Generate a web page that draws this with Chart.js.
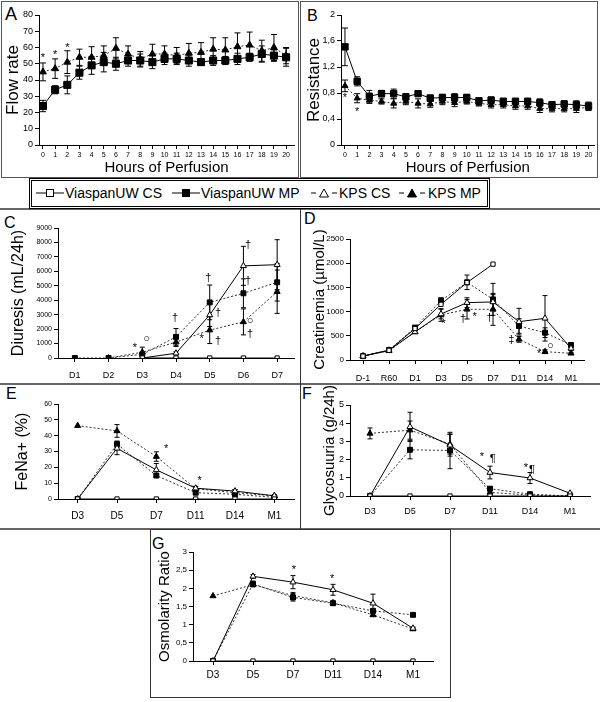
<!DOCTYPE html>
<html><head><meta charset="utf-8">
<script src="https://cdn.jsdelivr.net/npm/chart.js@4.4.0/dist/chart.umd.min.js"></script>
<style>
body{margin:0;background:#fff;width:600px;height:702px;position:relative;overflow:hidden;font-family:"Liberation Sans",Arial,sans-serif;}
canvas{position:absolute;}
.ln{position:absolute;background:#666;}
.box{position:absolute;border:1px solid #555;box-sizing:border-box;}
.lab{position:absolute;font-size:16px;line-height:16px;color:#000;}
.lg{position:absolute;font-size:14px;line-height:14px;color:#000;white-space:nowrap;}
.sym{position:absolute;}
</style></head><body>
<div class="box" style="left:1px;top:1px;width:298px;height:177px;"></div>
<div class="box" style="left:300px;top:1px;width:298px;height:177px;"></div>
<div class="ln" style="left:0;top:208px;width:600px;height:2px;"></div>
<div class="ln" style="left:0;top:383px;width:600px;height:2px;"></div>
<div class="ln" style="left:0;top:528px;width:600px;height:2px;"></div>
<div class="ln" style="left:300px;top:209px;width:1px;height:320px;background:#333;"></div>
<div class="box" style="left:150px;top:529px;width:301px;height:169px;border-color:#333;"></div>

<div class="box" style="left:29px;top:178px;width:461px;height:31px;border-color:#000;"></div>
<div class="box" style="left:31px;top:180px;width:457px;height:27px;border-color:#000;"></div>
<svg class="sym" style="left:36px;top:187px" width="28" height="12"><line x1="0" y1="6" x2="28" y2="6" stroke="#000"/><rect x="10.5" y="2.5" width="7" height="7" fill="#fff" stroke="#000"/></svg>
<div class="lg" style="left:65px;top:186px;">ViaspanUW CS</div>
<svg class="sym" style="left:172px;top:187px" width="28" height="12"><line x1="0" y1="6" x2="28" y2="6" stroke="#000"/><rect x="10.5" y="2.5" width="7" height="7" fill="#000" stroke="#000"/></svg>
<div class="lg" style="left:201px;top:186px;">ViaspanUW MP</div>
<svg class="sym" style="left:310px;top:187px" width="28" height="12"><line x1="1" y1="6" x2="6" y2="6" stroke="#000"/><line x1="22" y1="6" x2="27" y2="6" stroke="#000"/><polygon points="14,2 18.5,10 9.5,10" fill="#fff" stroke="#000"/></svg>
<div class="lg" style="left:339px;top:186px;">KPS CS</div>
<svg class="sym" style="left:398px;top:187px" width="28" height="12"><line x1="1" y1="6" x2="6" y2="6" stroke="#000"/><line x1="22" y1="6" x2="27" y2="6" stroke="#000"/><polygon points="14,2 18.5,10 9.5,10" fill="#000" stroke="#000"/></svg>
<div class="lg" style="left:428px;top:186px;">KPS MP</div>

<div class="lab" style="left:5px;top:5px;font-size:18px;line-height:18px;">A</div>
<div class="lab" style="left:307px;top:8px;">B</div>
<div class="lab" style="left:4px;top:215px;">C</div>
<div class="lab" style="left:304px;top:211px;">D</div>
<div class="lab" style="left:6px;top:386px;">E</div>
<div class="lab" style="left:302px;top:386px;">F</div>
<div class="lab" style="left:152px;top:536px;">G</div>

<script>
// ---------- DATA ----------
const hours = [0,1,2,3,4,5,6,7,8,9,10,11,12,13,14,15,16,17,18,19,20];
// Panel A: flow rate
const flowUwMP = [24,34,37,44.5,49,51,50,52,52,51,53,53,52,51,52,52,53,54,56,55,54];
const flowUwMPErr = [3.5,2.5,5.5,4,5.5,6,4,3.5,4,4,3.5,3.5,3.5,2,3,2.5,3.5,2.5,5,3.5,5.5];
const flowKpsMP = [45,47,51,54,54,55,59.5,56,53,56,56,55,56.5,57,59,58.5,60.5,61.5,58,60,55];
const flowKpsMPErr = [5.5,6,7,5,6.5,6,6.5,5,4.5,6,5,5,6,6,7,7.5,8.5,8,6.5,8,5];
const flowMarks = [{x:0,y:53.5,t:'*'},{x:1,y:55.5,t:'*'},{x:2,y:60,t:'*'}];
// Panel B: resistance
const resUwMP = [1.51,0.98,0.75,0.79,0.79,0.74,0.79,0.72,0.73,0.73,0.73,0.68,0.69,0.67,0.67,0.67,0.65,0.62,0.63,0.62,0.60];
const resUwMPErr = [0.29,0.07,0.09,0.05,0.07,0.05,0.04,0.05,0.05,0.06,0.05,0.04,0.05,0.05,0.05,0.05,0.06,0.05,0.05,0.06,0.06];
const resKpsMP = [0.91,0.72,0.69,0.67,0.64,0.67,0.64,0.63,0.67,0.65,0.67,0.64,0.62,0.62,0.60,0.60,0.56,0.56,0.56,0.56,0.58];
const resKpsMPErr = [0.09,0.07,0.05,0.04,0.07,0.05,0.07,0.05,0.05,0.06,0.04,0.04,0.05,0.05,0.05,0.05,0.06,0.05,0.05,0.06,0.05];
const resMarks = [{x:0,y:0.73,t:'*'},{x:1,y:0.51,t:'*'}];
// Panel C: diuresis
const daysC = ['D1','D2','D3','D4','D5','D6','D7'];
const diuUwCS = [null,null,0,0,0,0,0];
const diuKpsCS = [null,null,0,330,2980,6380,6460];
const diuKpsCSErr = [0,0,0,100,800,1350,1730];
const diuUwMP = [0,0,250,1460,3850,4480,5240];
const diuUwMPErr = [0,0,0,580,1200,1000,1300];
const diuKpsMP = [null,0,400,1100,1930,2500,4590];
const diuKpsMPErr = [0,0,350,300,930,900,1500];
const diuMarks = [{x:1.78,y:700,t:'*'},{x:2.13,y:1300,t:'○'},{x:2.97,y:2740,t:'†'},{x:3.96,y:5520,t:'†'},
  {x:4.25,y:3090,t:'†'},{x:3.76,y:1300,t:'*'},{x:4.25,y:1160,t:'†'},{x:5.14,y:7840,t:'†'},{x:5.14,y:5340,t:'†'},
  {x:5.2,y:2550,t:'○'},{x:5.2,y:1690,t:'†'}];
// Panel D: creatinemia
const daysD = ['D-1','R60','D1','D3','D5','D7','D11','D14','M1'];
const creUwCS = [80,200,650,1150,1600,1980,null,null,null];
const creKpsCS = [80,200,580,950,1185,1200,792,861,241];
const creKpsCSErr = [0,0,0,100,100,150,275,470,40];
const creUwMP = [80,207,670,1226,1605,1253,702,565,310];
const creUwMPErr = [0,0,0,60,150,330,150,100,40];
const creKpsMP = [80,190,580,930,1047,1047,427,172,138];
const creKpsMPErr = [0,0,0,130,200,330,60,40,20];
const creMarks = [{x:3.1,y:737,t:'*'},{x:3.85,y:847,t:'†'},{x:4.29,y:895,t:'*'},{x:4.87,y:860,t:'†'},
  {x:5.7,y:413,t:'‡'},{x:7.2,y:290,t:'○'},{x:6.77,y:117,t:'*'}];
// Panels E, F, G
const daysE = ['D3','D5','D7','D11','D14','M1'];
const fenUwCS = [0,0,0,0,0,0];
const fenKpsCS = [0,32,18.4,6.8,5,2];
const fenKpsCSErr = [0,4,4,1,1,0.5];
const fenUwMP = [0,34.6,14.8,4,3,1];
const fenUwMPErr = [0,2,1,1,1,0.3];
const fenKpsMP = [46.3,43,26.8,6.5,4,2];
const fenKpsMPErr = [0,4,3,1.5,2,0.5];
const fenMarks = [{x:2.25,y:31.7,t:'*'},{x:3.1,y:11.4,t:'*'}];

const glyUwCS = [0,0,0,0,0,0];
const glyKpsCS = [0,3.8,2.79,1.29,0.99,0.15];
const glyKpsCSErr = [0,0.8,0.6,0.35,0.3,0.05];
const glyUwMP = [0,2.54,2.5,0.4,0.1,0];
const glyUwMPErr = [0,0.5,1.0,0.1,0.05,0];
const glyKpsMP = [3.44,3.62,2.85,0.2,0.05,0];
const glyKpsMPErr = [0.3,0.5,0.55,0.1,0.05,0];
const glyMarks = [{x:2.8,y:2.15,t:'*'},{x:3.07,y:2.06,t:'¶'},{x:3.9,y:1.55,t:'*'},{x:4.05,y:1.45,t:'¶'}];

const osmUwCS = [0,0,0,0,0,0];
const osmKpsCS = [0,2.33,2.17,1.96,1.59,0.9];
const osmKpsCSErr = [0,0.05,0.18,0.15,0.25,0.03];
const osmUwMP = [0,2.12,1.75,1.59,1.38,1.27];
const osmUwMPErr = [0,0.08,0.1,0.05,0.05,0.02];
const osmKpsMP = [1.79,2.1,1.8,1.6,1.27,0.88];
const osmKpsMPErr = [0,0.05,0.08,0.05,0.05,0.03];
const osmMarks = [{x:2.02,y:2.51,t:'*'},{x:2.98,y:2.26,t:'*'}];

// ---------- RENDERING ----------
const FF = '"Liberation Sans", Arial, sans-serif';
Chart.defaults.font.family = FF;
Chart.defaults.color = '#000';

const errorBarPlugin = {
  id: 'errorBars',
  beforeDatasetsDraw(chart, args, opts) {
    const ctx = chart.ctx, ys = chart.scales.y, cap = opts.cap || 2.5;
    chart.data.datasets.forEach((d, i) => {
      if (!d.errorBars) return;
      const meta = chart.getDatasetMeta(i);
      meta.data.forEach((pt, j) => {
        const v = d.data[j], e = d.errorBars[j];
        if (v == null || !e) return;
        const x = pt.x, y1 = ys.getPixelForValue(v + e), y2 = ys.getPixelForValue(Math.max(0, v - e));
        ctx.save(); ctx.strokeStyle = '#000'; ctx.lineWidth = 1; ctx.setLineDash([]);
        ctx.beginPath();
        ctx.moveTo(x, y1); ctx.lineTo(x, y2);
        ctx.moveTo(x - cap, y1); ctx.lineTo(x + cap, y1);
        ctx.moveTo(x - cap, y2); ctx.lineTo(x + cap, y2);
        ctx.stroke(); ctx.restore();
      });
    });
  }
};
const marksPlugin = {
  id: 'marks',
  afterDatasetsDraw(chart, args, opts) {
    const items = opts.items || [];
    const ctx = chart.ctx;
    ctx.save();
    ctx.fillStyle = '#000'; ctx.textAlign = 'center'; ctx.textBaseline = 'middle';
    ctx.font = (opts.size || 11) + 'px ' + FF;
    items.forEach(m => ctx.fillText(m.t, chart.scales.x.getPixelForValue(m.x), chart.scales.y.getPixelForValue(m.y)));
    ctx.restore();
  }
};

const fmt = v => String(Math.round(v * 100) / 100).replace('.', ',');

function series(kind, data, err, r, dash) {
  const open = kind === 'uwCS' || kind === 'kpsCS';
  const tri = kind === 'kpsCS' || kind === 'kpsMP';
  return {
    label: kind, data: data, errorBars: err,
    borderColor: dash && dash.length ? '#333' : '#000', borderWidth: 1, borderDash: dash,
    pointStyle: tri ? 'triangle' : 'rect', pointRadius: r, pointHoverRadius: r,
    pointBackgroundColor: open ? '#fff' : '#000', pointBorderColor: '#000', pointBorderWidth: 1,
    fill: false, tension: 0, spanGaps: false
  };
}

function makeChart(c) {
  const cv = document.createElement('canvas');
  cv.width = c.w; cv.height = c.h;
  cv.style.left = c.left + 'px'; cv.style.top = c.top + 'px';
  cv.style.width = c.w + 'px'; cv.style.height = c.h + 'px';
  document.body.appendChild(cv);
  const tickGrid = {display: true, drawOnChartArea: false, drawTicks: true, tickLength: 4, color: '#000', offset: false};
  const x = c.linear ? {
    type: 'linear', min: c.xmin, max: c.xmax,
    afterBuildTicks: s => { s.ticks = c.labels.map(h => ({value: h})); },
    ticks: {autoSkip: false, maxRotation: 0, font: {size: c.xtf}, padding: c.xpad, callback: v => String(v)},
    grid: tickGrid, border: {display: true, color: '#000'},
    title: {display: !!c.xtitle, text: c.xtitle, font: {size: 15}, padding: {top: 0, bottom: 0}},
    afterFit: s => { s.height = c.xh; }
  } : {
    type: 'category', offset: true,
    ticks: {autoSkip: false, maxRotation: 0, font: {size: c.xtf}, padding: c.xpad},
    grid: tickGrid, border: {display: true, color: '#000'},
    afterFit: s => { s.height = c.xh; }
  };
  return new Chart(cv, {
    type: 'line',
    data: {labels: c.labels, datasets: c.datasets},
    options: {
      responsive: false, animation: false, devicePixelRatio: 1,
      layout: {padding: {left: 0, top: c.ptop, right: c.pright, bottom: 0}},
      plugins: {legend: {display: false}, tooltip: {enabled: false},
        errorBars: {cap: c.cap || 2.5}, marks: {items: c.marks, size: c.msize || 11}},
      scales: {
        x: x,
        y: {
          min: 0, max: c.ymax,
          ticks: {stepSize: c.ystep, font: {size: c.ytf}, padding: 2, callback: v => fmt(v)},
          grid: {display: true, drawOnChartArea: false, drawTicks: true, tickLength: 4, color: '#000'},
          border: {display: true, color: '#000'},
          title: {display: true, text: c.ytitle, font: {size: c.yts}, padding: {top: c.ytpad, bottom: 0}},
          afterFit: s => { s.width = c.yw; }
        }
      }
    },
    plugins: [errorBarPlugin, marksPlugin]
  });
}

// A
makeChart({left: 0, top: 0, w: 300, h: 177, linear: true, labels: hours, xmin: -0.327, xmax: 20.65,
  xtf: 7, xpad: 2, xh: 32, xtitle: 'Hours of Perfusion', ptop: 15, pright: 4,
  ymax: 80, ystep: 10, ytf: 9, ytitle: 'Flow rate', yts: 17, ytpad: 3, yw: 39, cap: 3, marks: flowMarks,
  datasets: [series('uwMP', flowUwMP, flowUwMPErr, 5, []), series('kpsMP', flowKpsMP, flowKpsMPErr, 4, [2, 2])]});
// B
makeChart({left: 300, top: 0, w: 300, h: 177, linear: true, labels: hours, xmin: -0.327, xmax: 20.49,
  xtf: 7, xpad: 2, xh: 32, xtitle: 'Hours of Perfusion', ptop: 15, pright: 4,
  ymax: 2, ystep: 0.2, ytf: 9, ytitle: 'Resistance', yts: 17, ytpad: 4, yw: 41, cap: 3, marks: resMarks,
  datasets: [series('uwMP', resUwMP, resUwMPErr, 4.5, []), series('kpsMP', resKpsMP, resKpsMPErr, 3.5, [2, 2])]});
// C
makeChart({left: 0, top: 209, w: 300, h: 175, labels: daysC, xtf: 9, xpad: 8, xh: 26, ptop: 19, pright: 6,
  ymax: 9000, ystep: 1000, ytf: 7, ytitle: 'Diuresis (mL/24h)', yts: 16, ytpad: 9, yw: 58, marks: diuMarks,
  datasets: [series('uwCS', diuUwCS, null, 3, []), series('kpsCS', diuKpsCS, diuKpsCSErr, 3.5, []),
    series('uwMP', diuUwMP, diuUwMPErr, 3.5, [2, 2]), series('kpsMP', diuKpsMP, diuKpsMPErr, 3.5, [2, 2])]});
// D
makeChart({left: 300, top: 209, w: 300, h: 175, labels: daysD, xtf: 9, xpad: 9, xh: 24, ptop: 30, pright: 16,
  ymax: 2500, ystep: 500, ytf: 8, ytitle: 'Creatinemia (µmol/L)', yts: 15, ytpad: 11, yw: 50, marks: creMarks,
  datasets: [series('uwCS', creUwCS, null, 3, []), series('kpsCS', creKpsCS, creKpsCSErr, 3.5, []),
    series('uwMP', creUwMP, creUwMPErr, 3.5, [2, 2]), series('kpsMP', creKpsMP, creKpsMPErr, 3.5, [2, 2])]});
// E
makeChart({left: 0, top: 384, w: 300, h: 145, labels: daysE, xtf: 10, xpad: 7, xh: 30, ptop: 20, pright: 6,
  ymax: 60, ystep: 10, ytf: 7, ytitle: 'FeNa+ (%)', yts: 16, ytpad: 13, yw: 58, marks: fenMarks,
  datasets: [series('uwCS', fenUwCS, null, 3, []), series('kpsCS', fenKpsCS, fenKpsCSErr, 3.5, []),
    series('uwMP', fenUwMP, fenUwMPErr, 3.5, [2, 2]), series('kpsMP', fenKpsMP, fenKpsMPErr, 3.5, [2, 2])]});
// F
makeChart({left: 300, top: 384, w: 300, h: 145, labels: daysE, xtf: 9, xpad: 6, xh: 33, ptop: 21, pright: 10,
  ymax: 5, ystep: 1, ytf: 9, ytitle: 'Glycosuuria (g/24h)', yts: 15, ytpad: 21, yw: 50, marks: glyMarks,
  datasets: [series('uwCS', glyUwCS, null, 3, []), series('kpsCS', glyKpsCS, glyKpsCSErr, 3.5, []),
    series('uwMP', glyUwMP, glyUwMPErr, 3.5, [2, 2]), series('kpsMP', glyKpsMP, glyKpsMPErr, 3.5, [2, 2])]});
// G
makeChart({left: 150, top: 529, w: 300, h: 168, labels: daysE, xtf: 10, xpad: 4, xh: 36, ptop: 23, pright: 17,
  ymax: 3, ystep: 0.5, ytf: 8, ytitle: 'Osmolarity Ratio', yts: 15, ytpad: 6, yw: 43, marks: osmMarks,
  datasets: [series('uwCS', osmUwCS, null, 3, []), series('kpsCS', osmKpsCS, osmKpsCSErr, 3.5, []),
    series('uwMP', osmUwMP, osmUwMPErr, 3.5, [2, 2]), series('kpsMP', osmKpsMP, osmKpsMPErr, 3.5, [2, 2])]});
</script>
</body></html>
